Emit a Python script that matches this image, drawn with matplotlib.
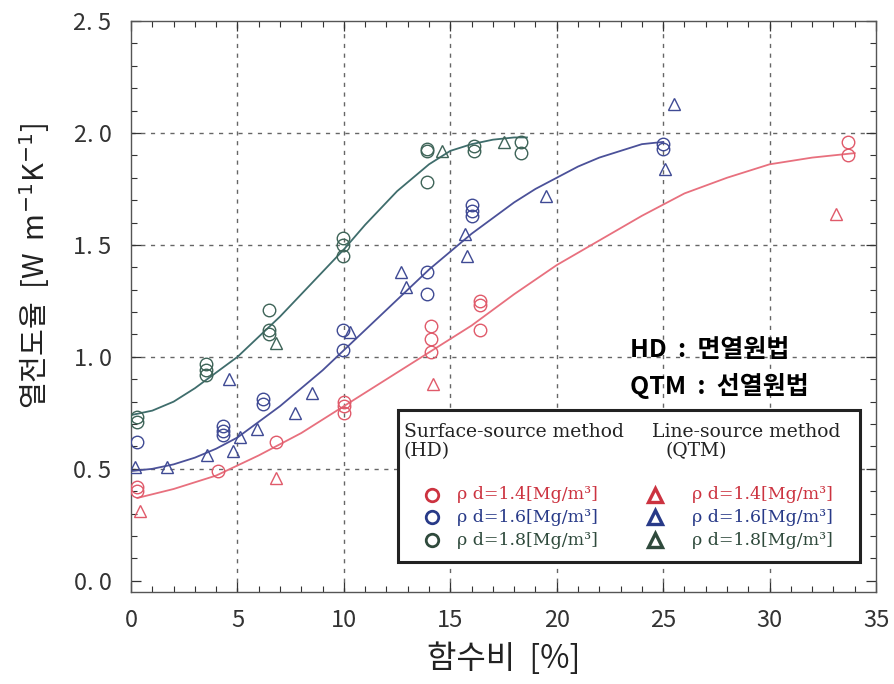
import matplotlib
matplotlib.use('Agg')
import matplotlib.pyplot as plt
from matplotlib.patches import Rectangle
from matplotlib.lines import Line2D

plt.rcParams['font.family'] = ['Noto Sans CJK KR', 'DejaVu Sans']
plt.rcParams['mathtext.fontset'] = 'dejavusans'

# ── data ─────────────────────────────────────────────────────────────────────

# surface-source method (HD), circles
hd14_x = [0.3, 0.3, 4.1, 6.8, 10.0, 10.0, 10.0, 14.1, 14.1, 14.1, 16.4, 16.4, 16.4, 33.7, 33.7]
hd14_y = [0.42, 0.40, 0.49, 0.62, 0.80, 0.78, 0.75, 1.14, 1.08, 1.02, 1.25, 1.23, 1.12, 1.96, 1.90]

hd16_x = [0.3, 4.3, 4.3, 4.3, 6.2, 6.2, 9.95, 9.95, 13.9, 13.9, 16.0, 16.0, 16.0, 25.0, 25.0]
hd16_y = [0.62, 0.69, 0.67, 0.65, 0.81, 0.79, 1.12, 1.03, 1.38, 1.28, 1.68, 1.65, 1.63, 1.95, 1.93]

hd18_x = [0.27, 0.27, 3.5, 3.5, 3.5, 6.5, 6.5, 6.5, 9.95, 9.95, 9.95, 13.9, 13.9, 13.9, 16.1, 16.1, 18.3, 18.3]
hd18_y = [0.73, 0.71, 0.97, 0.94, 0.92, 1.21, 1.12, 1.10, 1.53, 1.50, 1.45, 1.93, 1.92, 1.78, 1.94, 1.92, 1.96, 1.91]

# line-source method (QTM), triangles
qtm14_x = [0.4, 6.8, 14.2, 33.1]
qtm14_y = [0.31, 0.46, 0.88, 1.64]

qtm16_x = [0.2, 1.7, 3.55, 4.6, 4.8, 5.1, 5.9, 7.7, 8.5, 10.3, 12.7, 12.9, 15.7, 15.8, 19.5, 25.1, 25.5]
qtm16_y = [0.51, 0.51, 0.56, 0.90, 0.58, 0.64, 0.68, 0.75, 0.84, 1.11, 1.38, 1.31, 1.55, 1.45, 1.72, 1.84, 2.13]

qtm18_x = [6.8, 14.6, 17.5]
qtm18_y = [1.06, 1.92, 1.96]

# fitted curves
fit14_x = [0.3, 2, 4, 6, 8, 10, 12, 14, 16, 18, 20, 22, 24, 26, 28, 30, 32, 34]
fit14_y = [0.37, 0.41, 0.47, 0.56, 0.66, 0.78, 0.90, 1.02, 1.14, 1.28, 1.41, 1.52, 1.63, 1.73, 1.80, 1.86, 1.89, 1.91]

fit16_x = [0, 1, 2, 3, 4, 5, 6, 7, 8, 9, 10, 11, 12, 13, 14, 15, 16, 17, 18, 19, 20, 21, 22, 23, 24, 25]
fit16_y = [0.49, 0.50, 0.52, 0.55, 0.59, 0.64, 0.71, 0.78, 0.86, 0.94, 1.03, 1.12, 1.21, 1.30, 1.39,
           1.47, 1.55, 1.62, 1.69, 1.75, 1.80, 1.85, 1.89, 1.92, 1.95, 1.96]

fit18_x = [0, 1, 2, 3, 4, 5, 6, 7, 8, 9, 10, 11, 12, 12.5, 13, 13.5, 14, 14.5, 15, 16, 17, 18, 18.6]
fit18_y = [0.74, 0.76, 0.80, 0.86, 0.93, 1.00, 1.09, 1.18, 1.28, 1.38, 1.48, 1.59, 1.69, 1.74, 1.78,
           1.82, 1.86, 1.89, 1.92, 1.95, 1.97, 1.98, 1.98]

densities = ['1.4', '1.6', '1.8']

# ── style ────────────────────────────────────────────────────────────────────

C_RED, C_BLUE, C_GREEN = '#e05a6a', '#3f4a94', '#3e6458'
C_RED_L, C_BLUE_L, C_GREEN_L = '#cc3340', '#283a88', '#2f4a3c'
LINE = {'red': '#e8707e', 'blue': '#4b5199', 'green': '#3f6d6c'}

fig = plt.figure(figsize=(8.95, 6.84), dpi=100)
ax = fig.add_axes([0.1464, 0.1345, 0.8324, 0.8348])

ax.plot(fit14_x, fit14_y, color=LINE['red'], lw=1.3, zorder=2)
ax.plot(fit16_x, fit16_y, color=LINE['blue'], lw=1.3, zorder=2)
ax.plot(fit18_x, fit18_y, color=LINE['green'], lw=1.3, zorder=2)

mk = dict(linestyle='none', markerfacecolor='none', markersize=9, markeredgewidth=1.0, zorder=3)
ax.plot(hd14_x, hd14_y, marker='o', markeredgecolor=C_RED, **mk)
ax.plot(hd16_x, hd16_y, marker='o', markeredgecolor=C_BLUE, **mk)
ax.plot(hd18_x, hd18_y, marker='o', markeredgecolor=C_GREEN, **mk)
ax.plot(qtm14_x, qtm14_y, marker='^', markeredgecolor=C_RED, **mk)
ax.plot(qtm16_x, qtm16_y, marker='^', markeredgecolor=C_BLUE, **mk)
ax.plot(qtm18_x, qtm18_y, marker='^', markeredgecolor=C_GREEN, **mk)

ax.set_xlim(0, 35)
ax.set_ylim(-0.05, 2.5)
ax.set_xticks(range(0, 36, 5))
ax.set_xticks(range(0, 36, 1), minor=True)
ax.set_yticks([0, 0.5, 1.0, 1.5, 2.0, 2.5])
ax.set_yticklabels(['0. 0', '0. 5', '1. 0', '1. 5', '2. 0', '2. 5'])
ax.set_yticks([i / 10 for i in range(0, 26)], minor=True)
ax.tick_params(which='both', direction='in', top=True, right=True, labelsize=17, colors='#333333')
ax.tick_params(which='major', length=7, width=0.9)
ax.tick_params(which='minor', length=4, width=0.8)
ax.tick_params(axis='x', pad=12)
ax.tick_params(axis='y', pad=14)
for s in ax.spines.values():
    s.set_color('#555555')
    s.set_linewidth(1.0)

for gx in range(5, 35, 5):
    ax.axvline(gx, color='#666666', lw=1.0, ls=(0, (3, 4)), zorder=1)
for gy in [0.5, 1.0, 1.5, 2.0]:
    ax.axhline(gy, color='#666666', lw=1.0, ls=(0, (3, 4)), zorder=1)

ax.set_xlabel('함수비  [%]', fontsize=23, labelpad=8, color='#222222')
ax.set_ylabel('열전도율  [W  m$^{-1}$K$^{-1}$]', fontsize=21, color='#222222')
ax.yaxis.set_label_coords(-0.106, 0.57)

# annotation
ax.text(0.670, 0.424, 'HD  :  면열원법', transform=ax.transAxes, fontsize=18,
        fontweight='bold', va='center', ha='left', zorder=6)
ax.text(0.670, 0.361, 'QTM  :  선열원법', transform=ax.transAxes, fontsize=18,
        fontweight='bold', va='center', ha='left', zorder=6)

# ── legend box ───────────────────────────────────────────────────────────────
ax.add_patch(Rectangle((0.358, 0.053), 0.620, 0.266, transform=ax.transAxes,
                       facecolor='white', edgecolor='#222222', lw=2.2, zorder=5))
serif = dict(family='DejaVu Serif', transform=ax.transAxes, va='center', ha='left', zorder=6)
ax.text(0.366, 0.281, 'Surface-source method', fontsize=13.5, color='#222222', **serif)
ax.text(0.366, 0.247, '(HD)', fontsize=13.5, color='#222222', **serif)
ax.text(0.699, 0.281, 'Line-source method', fontsize=13.5, color='#222222', **serif)
ax.text(0.717, 0.247, '(QTM)', fontsize=13.5, color='#222222', **serif)

rows_y = [0.170, 0.131, 0.091]
leg_cols = [C_RED_L, C_BLUE_L, C_GREEN_L]
for d, ry, c in zip(densities, rows_y, leg_cols):
    ax.add_line(Line2D([0.404], [ry], transform=ax.transAxes, marker='o', markersize=9,
                       markerfacecolor='none', markeredgecolor=c, markeredgewidth=2.0, zorder=6))
    ax.add_line(Line2D([0.703], [ry], transform=ax.transAxes, marker='^', markersize=10,
                       markerfacecolor='none', markeredgecolor=c, markeredgewidth=2.4, zorder=6))
    lab = 'ρ d=' + d + '[Mg/m³]'
    ax.text(0.438, ry, lab, fontsize=12.5, color=c, **serif)
    ax.text(0.753, ry, lab, fontsize=12.5, color=c, **serif)

fig.savefig('out.png', dpi=100)
